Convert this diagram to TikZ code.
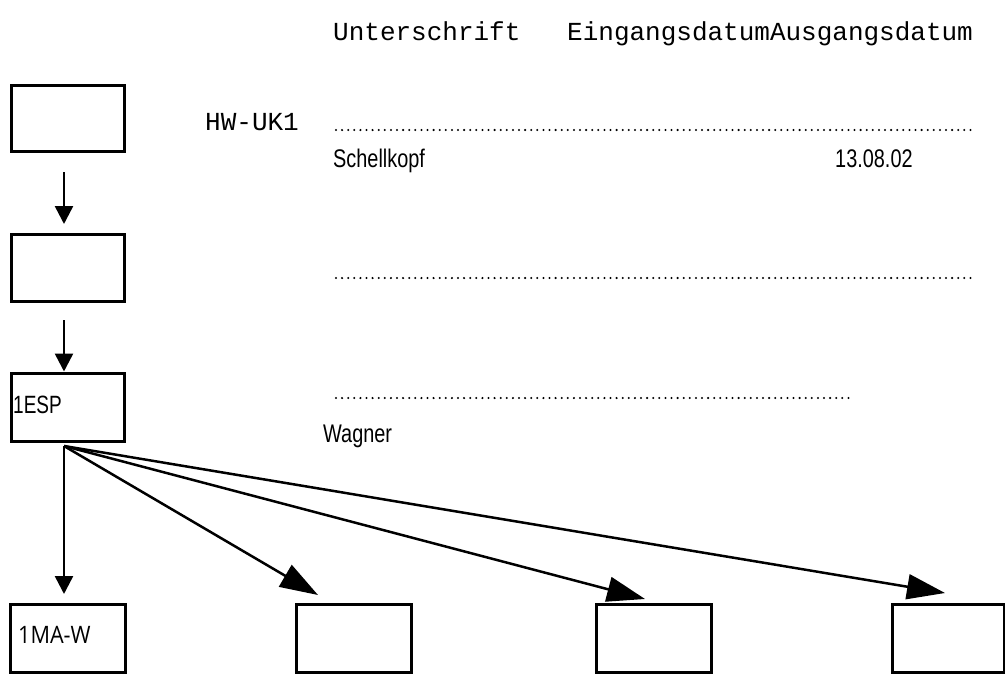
\documentclass[tikz,border=0pt]{standalone}
\usepackage{fontspec}
\setmainfont{Liberation Sans}
\newfontfamily\condfont[FakeStretch=0.78]{Liberation Sans}
\newfontfamily\espfont[FakeStretch=0.76]{Liberation Sans}
\newfontfamily\boxfontb[FakeStretch=0.9]{Open Sans}
\newfontfamily\monofont{Liberation Mono}
\usetikzlibrary{arrows.meta}
\tikzset{
  box/.style={draw, line width=3pt, inner sep=0pt, minimum width=113pt, minimum height=66pt},
  monotxt/.style={anchor=base west, inner sep=0pt, font=\monofont\fontsize{26pt}{30pt}\selectfont},
  sanstxt/.style={anchor=base west, inner sep=0pt, font=\condfont\fontsize{25.5pt}{28pt}\selectfont},
  esptxt/.style={anchor=base west, inner sep=0pt, font=\espfont\fontsize{25pt}{30pt}\selectfont},
  matxt/.style={anchor=base west, inner sep=0pt, font=\boxfontb\fontsize{24pt}{28pt}\selectfont},
  varrow/.style={line width=2.5pt, -{Triangle[length=18pt,width=18pt]}},
  darrow/.style={line width=2.5pt, -{Triangle[length=38pt,width=25pt]}},
  dotline/.style={line width=2.3pt, line cap=round, dash pattern=on 0pt off 6.1pt}
}
\begin{document}
\begin{tikzpicture}[x=1pt,y=-1pt]
\useasboundingbox (0,0) rectangle (1005,675);
% header
\node[monotxt] (head) at (333,40) {Unterschrift\ \ \ EingangsdatumAusgangsdatum};
% boxes
\node[box] (b1) at (68,118) {};
\node[box, minimum height=67pt] (b2) at (68,267.5) {};
\node[box, minimum height=68pt] (b3) at (68,407) {};
\node[box, minimum width=115pt, minimum height=68pt] (b4) at (67.5,638) {};
\node[box, minimum width=115pt, minimum height=68pt] (b5) at (353.5,638) {};
\node[box, minimum width=115pt, minimum height=68pt] (b6) at (653.5,638) {};
\node[box, minimum width=112pt, minimum height=68pt] (b7) at (948,638) {};
% box texts
\node[esptxt] (tesp) at (13,413) {1ESP};
\node[matxt] (tma) at (18,643) {1MA-W};
% labels
\node[monotxt] (hw) at (205,130) {HW-UK1};
\node[sanstxt] (schell) at (333,167) {Schellkopf};
\node[sanstxt] (datum) at (835,167) {13.08.02};
\node[sanstxt] (wagner) at (323,442) {Wagner};
% dotted lines
\coordinate (d1s) at (336,130); \coordinate (d1e) at (975,130);
\coordinate (d2s) at (336,278); \coordinate (d2e) at (975,278);
\coordinate (d3s) at (336,398); \coordinate (d3e) at (850,398);
\draw[dotline] (d1s) -- (d1e);
\draw[dotline] (d2s) -- (d2e);
\draw[dotline] (d3s) -- (d3e);
% arrows
\coordinate (a1s) at (64,172); \coordinate (a1e) at (64,224);
\coordinate (a2s) at (64,320);
\coordinate (src) at (64,446);
\coordinate (a3e) at (64,594);
\coordinate (t1) at (318,595);
\coordinate (t2) at (645,599);
\coordinate (t3) at (945,593);
\draw[varrow] (a1s) -- (a1e);
\draw[varrow] (a2s) -- (b3.north -| a2s);
\draw[varrow] (src) -- (a3e);
\draw[darrow] (src) -- (t1);
\draw[darrow] (src) -- (t2);
\draw[darrow] (src) -- (t3);
\end{tikzpicture}
\end{document}
